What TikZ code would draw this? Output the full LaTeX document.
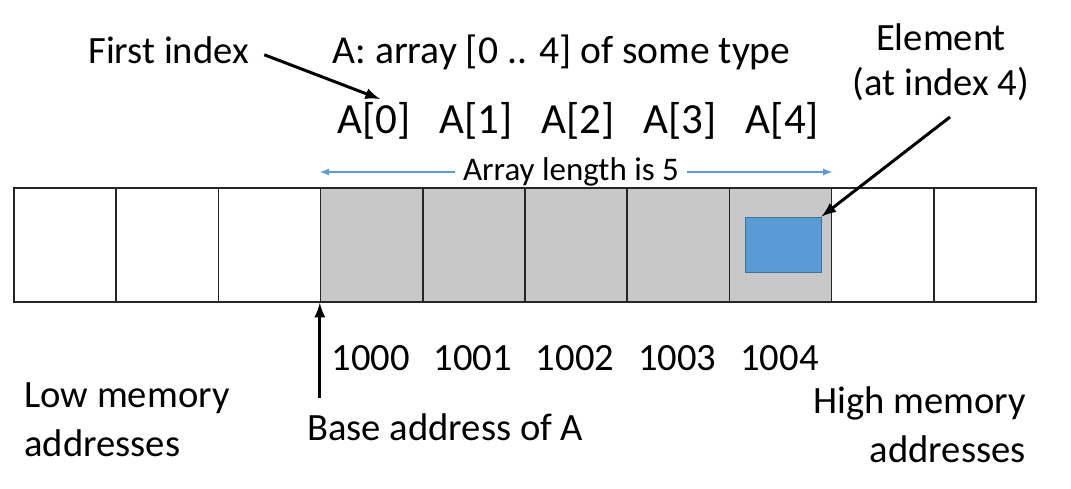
\documentclass[tikz,border=0pt]{standalone}
\usepackage{fontspec}
\setmainfont{Carlito}
\usetikzlibrary{arrows}
\definecolor{cellgray}{RGB}{200,200,200}
\definecolor{elemblue}{RGB}{91,155,213}
\definecolor{elemedge}{RGB}{65,113,156}
\tikzstyle{cell} = [rectangle, minimum width=51.1pt, minimum height=57pt, inner sep=0pt, draw=black!85, line width=0.8pt]
\tikzstyle{elembox} = [rectangle, minimum width=38pt, minimum height=27.5pt, inner sep=0pt, draw=elemedge, line width=0.5pt, fill=elemblue]
\tikzstyle{note} = [inner sep=0pt, font=\fontsize{19.3}{24.5}\selectfont]
\tikzstyle{idxtext} = [inner sep=0pt, font=\fontsize{21.5}{24}\selectfont]
\tikzstyle{lentext} = [inner ysep=0pt, inner xsep=4pt, font=\fontsize{16.5}{20}\selectfont]
\tikzstyle{pointer} = [line width=1.5pt, ->, >=latex]
\tikzstyle{lenarrow} = [line width=0.6pt, draw=elemblue, ->, >=latex]

\begin{document}
\begin{tikzpicture}[x=0.5pt, y=-0.5pt]
        \useasboundingbox (0,0) rectangle (1071,488);
        % memory cells
        \foreach \i in {0,1,2,8,9}
            \node (c\i) [cell] at ({14+102.2*(\i+0.5)}, 245) {};
        \foreach \i in {3,...,7}
            \node (c\i) [cell, fill=cellgray] at ({14+102.2*(\i+0.5)}, 245) {};
        \node (elem) [elembox] at (783, 244.5) {};

        % indices and addresses
        \foreach \k in {0,...,4} {
            \node (a\k) [idxtext, anchor=base] at ({16+102.2*(\k+3.5)}, 133) {A[\k]};
            \node (m\k) [note, anchor=base] at ({13+102.2*(\k+3.5)}, 370) {100\k};
        }

        \node (first) [note, anchor=base west] at (88, 63) {First index};
        \node (decl) [note, font=\fontsize{19.8}{24.5}\selectfont, anchor=base] at (561.5, 63) {A: array [0 .. 4] of some type};
        \node (elemlabel) [note, font=\fontsize{19.3}{22.5}\selectfont, align=center, anchor=base] at (941, 95) {Element\\(at index 4)};
        \node (lenlabel) [lentext] at (571, 172) {Array length is 5};
        \node (base) [note, anchor=base west] at (307, 440) {Base address of A};
        \node (low) [note, align=left, anchor=base west] at (24, 456) {Low memory\\addresses};
        \node (high) [note, align=right, anchor=base east] at (1026, 462) {High memory\\addresses};

        \coordinate (firsttip) at (380, 99);
        \coordinate (elemfrom) at (950, 117);
        \coordinate (basefrom) at ([yshift=-47.5pt]c3.south west);

        \draw[pointer] ([shift={(7.5pt,-2.5pt)}]first.east) -- (firsttip);
        \draw[pointer] (elemfrom) -- (elem.north east);
        \draw[pointer] (basefrom) -- (c3.south west);
        \draw[lenarrow] (lenlabel.west) -- (c3.north west |- lenlabel.west);
        \draw[lenarrow] (lenlabel.east) -- (c7.north east |- lenlabel.east);
    \end{tikzpicture}
\end{document}
